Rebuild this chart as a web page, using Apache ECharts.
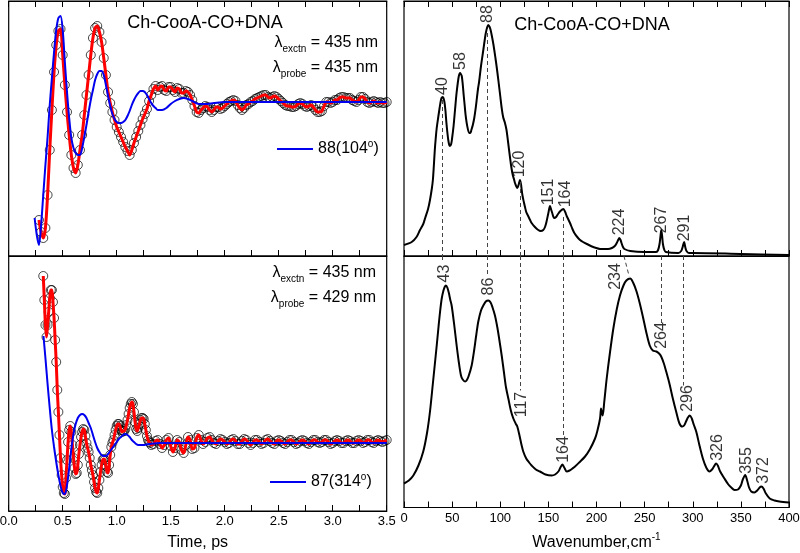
<!DOCTYPE html>
<html><head><meta charset="utf-8">
<script src="https://cdn.jsdelivr.net/npm/echarts@6/dist/echarts.min.js"></script>
<style>html,body{margin:0;padding:0;background:#fff}#c{width:800px;height:553px}</style>
</head><body><div id="c"></div>
<script>
const FONT = '"Liberation Sans", Arial, Helvetica, sans-serif';

// ---- tick labels ----
const timeTickLabels = ['0.0','0.5','1.0','1.5','2.0','2.5','3.0','3.5'];
const wnTickLabels = ['0','50','100','150','200','250','300','350','400'];

// ---- top-left: data (circles) and fit, t [ps] vs signal (arb.) ----
const topData = [[0.28,36],[0.30,24],[0.32,18],[0.34,28],[0.36,61],[0.38,106],[0.40,146],[0.42,184],[0.44,211],[0.46,225],[0.48,227],[0.50,201],[0.52,171],[0.54,144],[0.56,121],[0.58,101],[0.60,88],[0.62,83],[0.64,91],[0.66,106],[0.68,121],[0.70,141],[0.72,161],[0.74,181],[0.76,201],[0.78,218],[0.80,228],[0.82,230],[0.84,224],[0.86,214],[0.88,198],[0.90,181],[0.92,164],[0.94,153],[0.96,144],[0.98,136],[1.00,129],[1.02,124],[1.04,119],[1.06,114],[1.08,109],[1.10,105],[1.12,101],[1.14,106],[1.16,113],[1.18,119],[1.20,125],[1.22,131],[1.24,137],[1.26,142],[1.28,147],[1.30,155],[1.32,161],[1.34,167],[1.36,170],[1.38,166],[1.40,169],[1.42,170],[1.44,166],[1.46,165],[1.48,169],[1.50,169],[1.52,166],[1.54,164],[1.56,168],[1.58,167],[1.60,163],[1.62,163],[1.64,165],[1.66,164],[1.68,161],[1.70,156],[1.72,150],[1.74,144],[1.76,143],[1.78,146],[1.80,148],[1.82,150],[1.84,149],[1.86,146],[1.88,144],[1.90,146],[1.92,149],[1.94,149],[1.96,147],[1.98,148],[2.00,150],[2.02,152],[2.04,154],[2.06,155],[2.08,156],[2.10,155],[2.12,151],[2.14,148],[2.16,146],[2.18,148],[2.20,151],[2.22,152],[2.24,154],[2.26,155],[2.28,157],[2.30,158],[2.32,159],[2.34,160],[2.36,161],[2.38,161],[2.40,159],[2.42,158],[2.44,159],[2.46,160],[2.48,159],[2.50,157],[2.52,155],[2.54,153],[2.56,151],[2.58,150],[2.60,150],[2.62,149],[2.64,149],[2.66,150],[2.68,152],[2.70,153],[2.72,152],[2.74,150],[2.76,149],[2.78,150],[2.80,151],[2.82,149],[2.84,146],[2.86,144],[2.88,144],[2.90,145],[2.92,150],[2.94,154],[2.96,154],[2.98,153],[3.00,154],[3.02,156],[3.04,156],[3.06,158],[3.08,159],[3.10,159],[3.12,158],[3.14,158],[3.16,158],[3.18,156],[3.20,155],[3.22,154],[3.24,156],[3.26,159],[3.28,159],[3.30,157],[3.32,154],[3.34,153],[3.36,154],[3.38,155],[3.40,154],[3.42,153],[3.44,154],[3.46,153],[3.48,153],[3.50,154]];
const topMode88 = [[0.24,38],[0.26,21],[0.28,11],[0.30,31],[0.32,61],[0.34,91],[0.36,119],[0.38,151],[0.40,178],[0.42,204],[0.44,226],[0.46,238],[0.48,240],[0.50,226],[0.52,194],[0.54,164],[0.56,138],[0.58,118],[0.60,108],[0.62,103],[0.64,101],[0.66,101],[0.68,108],[0.70,119],[0.72,131],[0.74,144],[0.76,156],[0.78,166],[0.80,176],[0.82,182],[0.84,185],[0.86,185],[0.88,181],[0.90,171],[0.92,160],[0.94,150],[0.96,142],[0.98,137],[1.00,134],[1.02,133],[1.04,133],[1.06,134],[1.08,136],[1.10,140],[1.12,145],[1.14,151],[1.16,156],[1.18,160],[1.20,163],[1.22,165],[1.24,165],[1.26,164],[1.28,161],[1.30,157],[1.32,153],[1.34,150],[1.36,148],[1.38,146],[1.42,146],[1.46,148],[1.50,152],[1.54,155],[1.58,157],[1.62,158],[1.66,157],[1.70,155],[1.76,152],[1.82,152],[1.90,153],[2.00,154],[2.20,154],[2.60,154],[3.00,154],[3.50,154]];

// ---- bottom-left ----
const botData = [[0.32,235],[0.33,211],[0.34,186],[0.35,174],[0.36,186],[0.37,199],[0.38,213],[0.39,221],[0.40,221],[0.41,209],[0.42,193],[0.43,171],[0.44,149],[0.45,121],[0.46,99],[0.47,76],[0.48,53],[0.49,36],[0.50,24],[0.51,18],[0.52,17],[0.53,33],[0.54,51],[0.55,69],[0.56,81],[0.57,85],[0.58,79],[0.59,66],[0.60,53],[0.61,43],[0.62,37],[0.63,38],[0.64,46],[0.65,57],[0.66,66],[0.67,74],[0.68,79],[0.69,82],[0.70,81],[0.71,75],[0.72,68],[0.73,63],[0.74,59],[0.75,53],[0.76,46],[0.77,41],[0.78,36],[0.79,29],[0.80,23],[0.81,19],[0.82,18],[0.83,23],[0.84,31],[0.85,39],[0.86,46],[0.87,51],[0.88,52],[0.89,51],[0.90,45],[0.91,39],[0.92,38],[0.93,46],[0.94,56],[0.95,64],[0.96,68],[0.97,71],[0.98,76],[0.99,81],[1.00,85],[1.01,87],[1.02,87],[1.03,85],[1.04,81],[1.05,79],[1.06,80],[1.07,80],[1.08,82],[1.09,86],[1.10,91],[1.11,97],[1.12,103],[1.13,107],[1.14,109],[1.15,107],[1.16,99],[1.17,89],[1.18,82],[1.19,80],[1.20,83],[1.21,87],[1.22,91],[1.23,93],[1.24,93],[1.25,92],[1.26,87],[1.27,81],[1.28,75],[1.29,71],[1.30,69],[1.31,68],[1.32,66],[1.34,67],[1.36,70],[1.38,71],[1.40,67],[1.42,63],[1.44,66],[1.46,71],[1.48,73],[1.50,65],[1.52,59],[1.54,63],[1.56,71],[1.58,69],[1.60,61],[1.62,58],[1.64,66],[1.66,74],[1.68,71],[1.70,62],[1.72,63],[1.74,73],[1.76,76],[1.78,71],[1.80,67],[1.82,69],[1.84,73],[1.86,74],[1.88,71],[1.90,68],[1.92,67],[1.94,70],[1.96,72],[1.98,71],[2.00,69],[2.02,67],[2.04,68],[2.06,71],[2.08,72],[2.10,70],[2.12,67],[2.14,67],[2.16,70],[2.18,72],[2.20,71],[2.22,68],[2.24,66],[2.26,68],[2.28,71],[2.30,71],[2.32,69],[2.34,67],[2.36,68],[2.38,71],[2.40,72],[2.42,70],[2.44,68],[2.46,67],[2.48,70],[2.50,71],[2.52,70],[2.54,68],[2.56,67],[2.58,69],[2.60,71],[2.62,71],[2.64,69],[2.66,67],[2.68,68],[2.70,70],[2.72,71],[2.74,70],[2.76,68],[2.78,67],[2.80,69],[2.82,71],[2.84,71],[2.86,69],[2.88,68],[2.90,69],[2.92,71],[2.94,71],[2.96,69],[2.98,67],[3.00,68],[3.02,70],[3.04,71],[3.06,70],[3.08,68],[3.10,68],[3.12,70],[3.14,71],[3.16,70],[3.18,68],[3.20,68],[3.22,70],[3.24,71],[3.26,70],[3.28,68],[3.30,69],[3.32,71],[3.34,71],[3.36,69],[3.38,68],[3.40,70],[3.42,71],[3.44,70],[3.46,69],[3.48,70],[3.50,71]];
const botMode87 = [[0.322,175],[0.34,153],[0.36,127],[0.38,103],[0.40,81],[0.42,64],[0.44,49],[0.46,36],[0.48,25],[0.50,18],[0.52,17],[0.54,26],[0.56,43],[0.58,62],[0.60,77],[0.62,87],[0.64,93],[0.66,96],[0.68,97],[0.70,96],[0.72,93],[0.74,88],[0.76,83],[0.78,76],[0.80,69],[0.82,63],[0.84,59],[0.86,56],[0.88,55],[0.90,55],[0.92,57],[0.94,60],[0.96,63],[0.98,66],[1.00,69],[1.02,72],[1.04,74],[1.06,76],[1.08,77],[1.10,76],[1.12,74],[1.14,71],[1.16,69],[1.18,67],[1.20,66],[1.24,66],[1.30,67],[1.40,68],[1.60,68],[2.00,68],[2.50,68],[3.00,68],[3.50,68]];

// ---- right: spectra, wavenumber [cm-1] vs intensity (arb.) ----
const specTop = [[0,11],[8,14],[13,19],[16.6,26],[20,32],[22,38],[25,47],[27,56],[29,68],[30,76],[31,90],[32,106],[33,118],[34,128],[35.6,139],[37,148],[38,154],[39,158],[40.2,159],[41,158],[42,154],[43,146],[44,134],[45,124],[46,116],[47,111],[47.8,110],[49,112],[50,118],[51.5,130],[53,146],[54.5,162],[56,174],[57,180],[58.2,183],[59,182],[60,180],[61,172],[62,161],[63,151],[64,141],[65.5,131],[67.8,123],[69,123],[70,126],[71.5,131],[73,138],[74.5,148],[75.5,156],[77,168],[78,174],[80,190],[82.4,206],[84,217],[85,223],[86.5,229],[87.6,231],[89,229],[90,226],[91.5,219],[93,211],[95,198],[96.3,189],[98,176],[100,160],[101.5,148],[103,139],[104.9,133],[106.5,126],[108,115],[110.1,99],[111.5,89],[113,81],[114.5,76],[115.3,73],[117.7,68],[119,71],[120.5,76],[121.5,72],[123,61],[124.5,54],[125.7,49],[127,44],[129,40],[131,36],[132.6,33],[136,29],[139.5,26],[142,25],[144.7,26],[146.5,29],[148,34],[150,43],[151.7,50],[153,46],[154,43],[156,38],[158,39],[160,42],[162.5,45],[165.6,47],[167.5,44],[169,40],[170.5,37],[172.5,33],[175,27],[177,23],[180,19],[182.9,16],[186,14],[190,12],[196.7,9],[205,7],[212,7],[216,8],[219,10],[221,13],[222.5,16],[223.7,18],[225,16],[226,13],[227.5,9],[229,7],[235,5],[250,4],[262,4],[264,6],[265.5,12],[266.5,20],[267.3,26],[268.2,20],[269,12],[270.5,6],[272,4],[285,3],[288,5],[289.5,9],[291,14],[292.2,9],[293.5,5],[296,3],[300,3],[350,2],[400,1]];
const specBot = [[0,24],[5,27],[9.7,32],[15,42],[20,56],[24,75],[27,96],[30,124],[32,143],[34,162],[36,182],[37.5,196],[39.2,209],[41,217],[42.5,221],[43.6,222],[45,220],[46.5,215],[48,208],[49.5,202],[52,184],[54.7,162],[57,145],[59.2,132],[61,128],[63.4,126],[65,127],[67,131],[70.3,142],[73,158],[75,172],[77.2,186],[80,197],[82.4,202],[85,206],[87.6,207],[90,205],[92,200],[94.5,192],[97,180],[99,168],[101.5,152],[104,134],[106,120],[108.4,109],[111,97],[113.6,89],[116,84],[117.7,81],[120,72],[122,63],[123.9,56],[127,49],[130,45],[132.6,42],[137,38],[141.3,36],[147,33],[153.5,32],[157,33],[160.4,36],[162.5,40],[164.5,43],[166.5,40],[169.1,36],[172,37],[175,39],[177.7,41],[182,45],[188.1,51],[193,58],[198.5,69],[201,77],[203.7,89],[204.7,99],[205.5,95],[206.4,92],[208,105],[210.6,129],[214,155],[217.5,179],[221,198],[224.4,212],[228,222],[231,227],[235,229],[238,225],[241.6,216],[245,204],[248.6,189],[252,174],[255.3,162],[258.5,157],[262.2,156],[265,154],[267.2,151],[270,144],[272.4,136],[276,123],[279.3,109],[283,95],[286.2,84],[289,81],[291,82],[293,86],[295,90],[297,92],[299,89],[301,83],[303.6,76],[307,62],[310.5,49],[314,40],[317.4,36],[320,38],[322,41],[324.3,44],[326,42],[328.5,36],[332.9,29],[337,23],[340,20],[343.4,17.5],[347,18],[350,22],[352,28],[354.5,32.5],[356.5,27],[358.5,20],[360.8,16],[364,15],[367,17],[369.5,20],[371.3,21],[373.5,19],[376,14],[380,9],[385,7],[390,6],[400,5]];

// peak labels [wavenumber, height, text]
const topPeakLabels = [[40.2,170,'40'],[58.9,195,'58'],[87.3,242,'88'],[120.5,92,'120'],[149.8,64,'151'],[168.3,62,'164'],[224.4,34,'224'],[267.2,36,'267'],[292,28,'291']];
const botPeakLabels = [[42.6,234,'43'],[87.6,221,'86'],[122.3,103,'117'],[165.5,58,'164'],[220.3,231,'234'],[267.7,172,'264'],[294.5,109,'296'],[326.2,60,'326'],[356,47,'355'],[373.3,37,'372']];

// dashed correlation lines between panels
const linksTop = [[[40.2,156],[40.2,0]],[[86.8,223],[86.8,0]],[[120.5,74],[120.5,0]],[[165.5,39],[165.5,0]]];
const linksBot = [[[40.2,251.5],[40.2,247]],[[86.8,251.5],[86.8,231]],[[120.5,251.5],[120.5,117]],[[165.5,251.5],[165.5,72]],[[228.5,251.5],[234,231]],[[267.2,251.5],[267.2,184]],[[290.2,251.5],[290.2,122]]];

const chart = echarts.init(document.getElementById('c'), null, {renderer:'canvas'});

const tickFont = {fontSize:13, color:'#000', fontFamily:FONT};
function xAx(grid, kind, pos, showLabel, name){
  const isTime = kind === 'time';
  const a = {
    type:'value', gridIndex:grid, position:pos,
    min:0, max: isTime ? 3.5 : 400, interval: isTime ? 0.5 : 50,
    axisLine:{show:true, lineStyle:{color:'#000', width:1.2}},
    axisTick:{show:true, inside:true, length:6, lineStyle:{color:'#000', width:1}},
    minorTick:{show:true, splitNumber:2, length:6, lineStyle:{color:'#000', width:1}},
    splitLine:{show:false}, minorSplitLine:{show:false},
    axisLabel:{show:showLabel, margin:4, ...tickFont,
      formatter: v => isTime ? timeTickLabels[Math.round(v/0.5)] : wnTickLabels[Math.round(v/50)]}
  };
  if (name){
    a.name = name; a.nameLocation = 'middle'; a.nameGap = isTime ? 22 : 25;
    a.nameTextStyle = {fontSize:16, color:'#000', fontFamily:FONT, lineHeight:20,
      rich:{sup:{fontSize:10, lineHeight:10, verticalAlign:'top', fontFamily:FONT, color:'#000'}}};
  }
  return a;
}
function yAx(grid, max){
  return {type:'value', gridIndex:grid, min:0, max:max,
    axisLine:{show:false}, axisTick:{show:false}, axisLabel:{show:false}, splitLine:{show:false}};
}
const gridBase = {show:true, borderColor:'#000', borderWidth:1.2, containLabel:false, outerBoundsMode:'none'};

function circles(x, y, data){
  return {type:'scatter', xAxisIndex:x, yAxisIndex:y, data:data, symbol:'circle', symbolSize:9,
    itemStyle:{color:'rgba(0,0,0,0)', borderColor:'#000', borderWidth:0.9}, z:2, silent:true};
}
function fitLine(x, y, data){
  return {type:'line', xAxisIndex:x, yAxisIndex:y, data:data, smooth:0.3, showSymbol:false, symbol:'none',
    lineStyle:{color:'#ff0000', width:3}, z:3, silent:true};
}
function modeLine(name, x, y, data){
  return {type:'line', name:name, xAxisIndex:x, yAxisIndex:y, data:data, smooth:0.3, showSymbol:false, symbol:'none',
    lineStyle:{color:'#0000ee', width:2}, itemStyle:{color:'#0000ee'}, z:4, silent:true};
}
function specLine(x, y, data, links){
  return {type:'line', xAxisIndex:x, yAxisIndex:y, data:data, smooth:0.3, showSymbol:false, symbol:'none',
    lineStyle:{color:'#000', width:2}, z:3, silent:true,
    markLine:{silent:true, symbol:['none','none'], label:{show:false}, animation:false,
      lineStyle:{type:[4,3], color:'#444', width:1},
      data: links.map(s => [{coord:s[0]},{coord:s[1]}])}};
}
function peakLabels(x, y, data){
  return {type:'scatter', xAxisIndex:x, yAxisIndex:y, data:data, symbolSize:1,
    itemStyle:{color:'rgba(0,0,0,0)'}, z:5, silent:true,
    label:{show:true, position:'inside', rotate:90, align:'center', verticalAlign:'middle',
      formatter: p => p.data[2], fontSize:16, color:'#000', fontFamily:FONT}};
}

const lambdaRich = {
  a:{fontSize:16, lineHeight:22, fill:'#000', color:'#000', fontFamily:FONT},
  b:{fontSize:10, lineHeight:10, verticalAlign:'bottom', fill:'#000', color:'#000', fontFamily:FONT}
};
function lambdaText(x, y, sub, val){
  return {type:'text', x:x, y:y, silent:true,
    style:{text:'{a|λ}{b|'+sub+'}{a| = '+val+'}', rich:lambdaRich, align:'right', verticalAlign:'middle',
      textAlign:'right', textVerticalAlign:'middle', fill:'#000'}};
}
function titleText(x, y){
  return {type:'text', x:x, y:y, silent:true,
    style:{text:'Ch-CooA-CO+DNA', font:'18px '+FONT, fill:'#000', align:'center', verticalAlign:'middle',
      textAlign:'center', textVerticalAlign:'middle'}};
}
const legendText = {fontSize:16, color:'#000', fontFamily:FONT, lineHeight:20,
  rich:{sup:{fontSize:10, lineHeight:10, verticalAlign:'top', color:'#000', fontFamily:FONT}}};

chart.setOption({
  animation:false,
  backgroundColor:'#fff',
  grid:[
    {...gridBase, left:8.7, top:1, width:378, height:255},
    {...gridBase, left:8.7, top:256, width:378, height:255},
    {...gridBase, left:404, top:1, width:385, height:255},
    {...gridBase, left:404, top:256, width:385, height:251.5}
  ],
  xAxis:[
    xAx(0,'time','bottom',false),
    xAx(0,'time','top',false),
    xAx(1,'time','bottom',true,'Time, ps'),
    xAx(2,'wn','bottom',false),
    xAx(2,'wn','top',false),
    xAx(3,'wn','bottom',true,'Wavenumber,cm{sup|-1}')
  ],
  yAxis:[yAx(0,255), yAx(1,255), yAx(2,255), yAx(3,251.5)],
  legend:[
    {data:['88(104°)'], left:277, top:139, icon:'rect', itemWidth:36, itemHeight:2, itemGap:4, padding:0,
      formatter: n => n.replace('°','{sup|o}'), textStyle:legendText, selectedMode:false},
    {data:['87(314°)'], left:270, top:472, icon:'rect', itemWidth:36, itemHeight:2, itemGap:4, padding:0,
      formatter: n => n.replace('°','{sup|o}'), textStyle:legendText, selectedMode:false}
  ],
  graphic:[
    titleText(205,23),
    titleText(592,25),
    lambdaText(378,43,'exctn','435 nm'),
    lambdaText(378,68,'probe','435 nm'),
    lambdaText(376,273,'exctn','435 nm'),
    lambdaText(376,298,'probe','429 nm')
  ],
  series:[
    circles(0,0,topData), fitLine(0,0,topData), modeLine('88(104°)',0,0,topMode88),
    circles(2,1,botData), fitLine(2,1,botData), modeLine('87(314°)',2,1,botMode87),
    specLine(3,2,specTop,linksTop), peakLabels(3,2,topPeakLabels),
    specLine(5,3,specBot,linksBot), peakLabels(5,3,botPeakLabels)
  ]
});
</script></body></html>
